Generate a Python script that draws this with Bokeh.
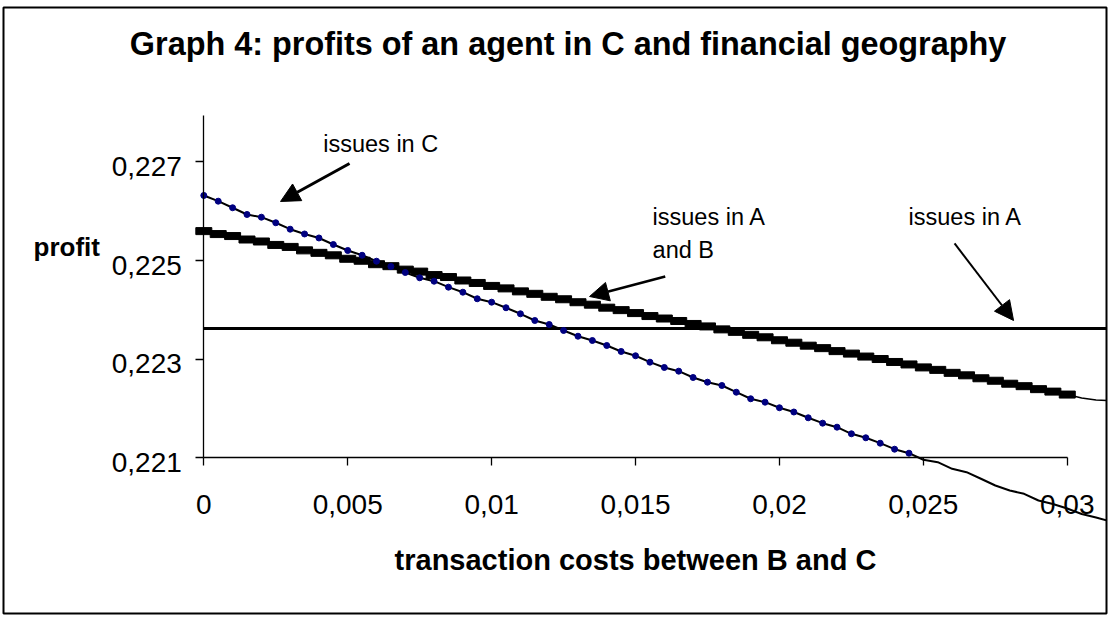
from bokeh.plotting import figure
from bokeh.models import LinearAxis, FixedTicker, Label, Arrow, NormalHead, Range1d
from bokeh.embed import file_html
from bokeh.resources import INLINE

title_text = "Graph 4: profits of an agent in C and financial geography"
x_label = "transaction costs between B and C"
y_label = "profit"

costs = [0.0, 0.0005, 0.001, 0.0015, 0.002, 0.0025, 0.003, 0.0035, 0.004, 0.0045,
         0.005, 0.0055, 0.006, 0.0065, 0.007, 0.0075, 0.008, 0.0085, 0.009, 0.0095,
         0.01, 0.0105, 0.011, 0.0115, 0.012, 0.0125, 0.013, 0.0135, 0.014, 0.0145,
         0.015, 0.0155, 0.016, 0.0165, 0.017, 0.0175, 0.018, 0.0185, 0.019, 0.0195,
         0.02, 0.0205, 0.021, 0.0215, 0.022, 0.0225, 0.023, 0.0235, 0.024, 0.0245,
         0.025, 0.0255, 0.026, 0.0265, 0.027, 0.0275, 0.028, 0.0285, 0.029, 0.0295,
         0.03, 0.0305, 0.031, 0.0315]

issues_c = [0.226312, 0.226196, 0.226063, 0.225927, 0.225872, 0.225759, 0.225629, 0.225532, 0.225451, 0.225319,
            0.225198, 0.225101, 0.224981, 0.224874, 0.224752, 0.224645, 0.224576, 0.224455, 0.224353, 0.224220,
            0.224151, 0.224038, 0.223916, 0.223780, 0.223699, 0.223578, 0.223462, 0.223375, 0.223274, 0.223153,
            0.223066, 0.222936, 0.222829, 0.222754, 0.222626, 0.222531, 0.222464, 0.222328, 0.222195, 0.222126,
            0.222013, 0.221927, 0.221810, 0.221701, 0.221620, 0.221486, 0.221405, 0.221296, 0.221174, 0.221093,
            0.220960, 0.220911, 0.220777, 0.220708, 0.220575, 0.220439, 0.220338, 0.220271, 0.220135, 0.220064,
            0.219973, 0.219862, 0.219791, 0.219710]

issues_ab = [0.22559, 0.22553, 0.22549, 0.22542, 0.22538, 0.22531, 0.22527, 0.22520, 0.22515, 0.22510,
             0.22503, 0.22499, 0.22492, 0.22488, 0.22481, 0.22477, 0.22470, 0.22466, 0.22459, 0.22454,
             0.22448, 0.22443, 0.22437, 0.22432, 0.22426, 0.22421, 0.22415, 0.22410, 0.22404, 0.22399,
             0.22393, 0.22387, 0.22382, 0.22377, 0.22371, 0.22366, 0.22360, 0.22355, 0.22349, 0.22344,
             0.22338, 0.22333, 0.22327, 0.22322, 0.22316, 0.22311, 0.22305, 0.22300, 0.22294, 0.22289,
             0.22283, 0.22278, 0.22272, 0.22267, 0.22261, 0.22256, 0.22250, 0.22245, 0.22239, 0.22234,
             0.22228, 0.22221, 0.22217, 0.22216]

issues_a = [0.22362] * 64

x_ticks = [0, 0.005, 0.01, 0.015, 0.02, 0.025, 0.03]
x_tick_labels = ["0", "0,005", "0,01", "0,015", "0,02", "0,025", "0,03"]
y_ticks = [0.221, 0.223, 0.225, 0.227]
y_tick_labels = ["0,221", "0,223", "0,225", "0,227"]

FONT = "Liberation Sans"
X_MAX = 0.03
Y_MIN = 0.221
Y_TOP = 0.22793
Y_LABEL_DROP = 0.0001   # the source draws its y tick labels a few pixels below the ticks

p = figure(width=1108, height=617, output_backend="svg", toolbar_location=None, title=None,
           x_range=Range1d(-0.00696, 0.031363), y_range=Range1d(0.217847, 0.230118),
           x_axis_location=None, y_axis_location=None,
           min_border_left=3, min_border_right=2, min_border_top=7, min_border_bottom=4)
for g in p.grid:
    g.visible = False
p.outline_line_color = "black"
p.outline_line_width = 2
p.background_fill_color = "white"
p.border_fill_color = "white"


def style(ax):
    ax.axis_line_color = "black"
    ax.axis_line_width = 1.3
    ax.major_tick_line_color = "black"
    ax.major_tick_line_width = 1.3
    ax.major_tick_out = 8
    ax.major_tick_in = 0
    ax.minor_tick_line_color = None
    ax.major_label_text_font = FONT
    ax.major_label_text_font_size = "28px"
    ax.major_label_text_color = "black"
    ax.axis_label_text_font = FONT
    ax.axis_label_text_font_style = "bold"
    ax.axis_label_text_font_size = "29px"
    ax.axis_label_text_color = "black"


xaxis = LinearAxis(fixed_location=Y_MIN, bounds=(0, X_MAX),
                   ticker=FixedTicker(ticks=x_ticks, minor_ticks=[]),
                   major_label_overrides=dict(zip(x_ticks, x_tick_labels)),
                   axis_label=x_label)
style(xaxis)
xaxis.major_label_standoff = 29
xaxis.axis_label_standoff = 27
p.add_layout(xaxis, "below")

# y axis: line and ticks
yaxis = LinearAxis(fixed_location=0, bounds=(Y_MIN, Y_TOP),
                   ticker=FixedTicker(ticks=y_ticks, minor_ticks=[]))
style(yaxis)
yaxis.major_label_text_color = None
p.add_layout(yaxis, "left")

# y axis: tick labels (drawn slightly below their ticks, as in the source)
y_label_pos = [round(t - Y_LABEL_DROP, 6) for t in y_ticks]
ylabels = LinearAxis(fixed_location=0, bounds=(Y_MIN - 0.0002, Y_TOP),
                     ticker=FixedTicker(ticks=y_label_pos, minor_ticks=[]),
                     major_label_overrides=dict(zip(y_label_pos, y_tick_labels)))
style(ylabels)
ylabels.axis_line_color = None
ylabels.major_tick_line_color = None
ylabels.major_label_standoff = 14
p.add_layout(ylabels, "left")

# series
p.line(costs, issues_a, line_color="black", line_width=3)
p.line(costs, issues_ab, line_color="black", line_width=1.5)
ab_x = [x for x in costs if x <= X_MAX]
ab_y = [y for x, y in zip(costs, issues_ab) if x <= X_MAX]
p.rect(x=ab_x, y=ab_y, width=16, height=7, width_units="screen", height_units="screen",
       fill_color="black", line_color="black")
p.line(costs, issues_c, line_color="black", line_width=2)
c_pts = [(x, y) for x, y in zip(costs, issues_c) if x <= X_MAX and y >= Y_MIN]
p.scatter([c[0] for c in c_pts], [c[1] for c in c_pts], size=6, marker="circle",
          fill_color="#000080", line_color="#000080")

# texts
p.add_layout(Label(x=0.012655, y=0.229369, text=title_text, text_align="center",
                   text_baseline="alphabetic", text_font=FONT, text_font_style="bold",
                   text_font_size="32.4px", text_color="black"))
p.add_layout(Label(x=-0.005917, y=0.225259, text=y_label, text_align="left",
                   text_baseline="alphabetic", text_font=FONT, text_font_style="bold",
                   text_font_size="26px", text_color="black"))

ann = dict(text_baseline="alphabetic", text_font=FONT, text_font_size="23.5px", text_color="black")
p.add_layout(Label(x=0.004150, y=0.227344, text="issues in C", **ann))
p.add_layout(Label(x=0.015591, y=0.225866, text="issues in A", **ann))
p.add_layout(Label(x=0.015591, y=0.225198, text="and B", **ann))
p.add_layout(Label(x=0.024486, y=0.225866, text="issues in A", **ann))


def head():
    return NormalHead(size=19, fill_color="black", line_color="black")


p.add_layout(Arrow(end=head(), x_start=0.005063, y_start=0.22696, x_end=0.002665, y_end=0.22619,
                   line_color="black", line_width=3))
p.add_layout(Arrow(end=head(), x_start=0.016032, y_start=0.224671, x_end=0.013402, y_end=0.224266,
                   line_color="black", line_width=2.5))
p.add_layout(Arrow(end=head(), x_start=0.026084, y_start=0.225340, x_end=0.028134, y_end=0.22378,
                   line_color="black", line_width=2))

open("out.html", "w").write(file_html(p, INLINE))
